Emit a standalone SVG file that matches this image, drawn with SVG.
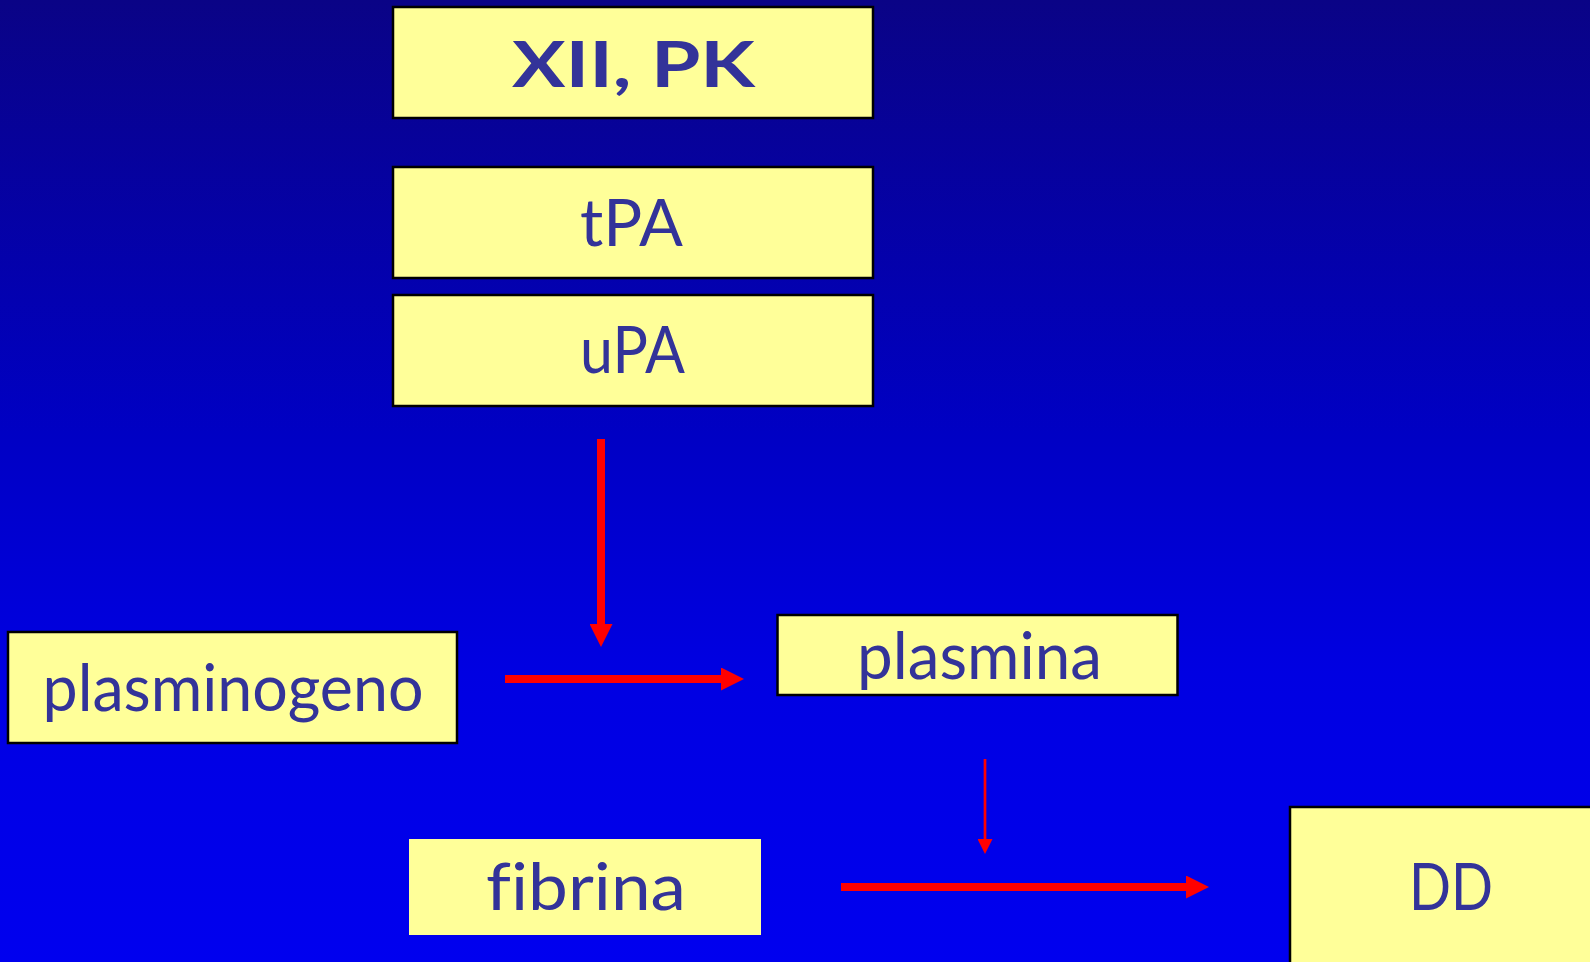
<svg xmlns="http://www.w3.org/2000/svg" width="1590" height="962" viewBox="0 0 1590 962">
  <defs>
    <linearGradient id="bg" x1="0" y1="0" x2="0" y2="1">
      <stop offset="0" stop-color="#0a0386"/>
      <stop offset="0.45" stop-color="#0000c4"/>
      <stop offset="0.7" stop-color="#0000e2"/>
      <stop offset="1" stop-color="#0000ef"/>
    </linearGradient>
    <marker id="head" viewBox="0 0 23 23" refX="3" refY="11.5" markerWidth="23" markerHeight="23" markerUnits="userSpaceOnUse" orient="auto">
      <path d="M0,0 L23,11.5 L0,23 Z" fill="#ff0000"/>
    </marker>
    <marker id="headSmall" viewBox="0 0 15 15" refX="2" refY="7.5" markerWidth="15" markerHeight="15" markerUnits="userSpaceOnUse" orient="auto">
      <path d="M0,0 L15,7.5 L0,15 Z" fill="#ff0000"/>
    </marker>
  </defs>
  <style>
    .box { fill: #ffff99; stroke: #000000; stroke-width: 2.5; }
    .plain { fill: #ffff99; stroke: none; }
    .lbl { fill: #333399; font-family: "Comic Sans MS", "Lato", "Noto Sans", sans-serif; font-size: 66px; text-anchor: middle; font-variant-ligatures: none; }
    .bold { font-weight: bold; font-size: 64px; }
    .thick { stroke: #ff0000; stroke-width: 8; fill: none; marker-end: url(#head); }
    .thin { stroke: #ff0000; stroke-width: 2.7; fill: none; marker-end: url(#headSmall); }
  </style>

  <rect x="0" y="0" width="1590" height="962" fill="url(#bg)"/>

  <g id="node-xii-pk">
    <rect class="box" x="393" y="7" width="480" height="111"/>
    <text class="lbl bold" x="633.5" y="87" textLength="243" lengthAdjust="spacingAndGlyphs">XII, PK</text>
  </g>

  <g id="node-tpa">
    <rect class="box" x="393" y="167" width="480" height="111"/>
    <text class="lbl" x="631.5" y="246" textLength="103" lengthAdjust="spacingAndGlyphs">tPA</text>
  </g>

  <g id="node-upa">
    <rect class="box" x="393" y="295" width="480" height="111"/>
    <text class="lbl" x="632.5" y="373" textLength="105" lengthAdjust="spacingAndGlyphs">uPA</text>
  </g>

  <g id="node-plasminogeno">
    <rect class="box" x="8" y="632" width="449" height="111"/>
    <text class="lbl" x="233" y="711" textLength="381" lengthAdjust="spacingAndGlyphs">plasminogeno</text>
  </g>

  <g id="node-plasmina">
    <rect class="box" x="777.5" y="615" width="400" height="80"/>
    <text class="lbl" x="979.5" y="679" textLength="245" lengthAdjust="spacingAndGlyphs">plasmina</text>
  </g>

  <g id="node-fibrina">
    <rect class="plain" x="409" y="839" width="352" height="96"/>
    <text class="lbl" x="586" y="910" textLength="200" lengthAdjust="spacingAndGlyphs">fibrina</text>
  </g>

  <g id="node-dd">
    <rect class="box" x="1290" y="807" width="320" height="170"/>
    <text class="lbl" x="1451" y="910" textLength="84" lengthAdjust="spacingAndGlyphs">DD</text>
  </g>

  <g id="connectors">
    <line class="thick" x1="601" y1="439" x2="601" y2="627"/>
    <line class="thick" x1="505" y1="679" x2="724" y2="679"/>
    <line class="thin" x1="985" y1="759" x2="985" y2="841"/>
    <line class="thick" x1="841" y1="887" x2="1189" y2="887"/>
  </g>
</svg>
